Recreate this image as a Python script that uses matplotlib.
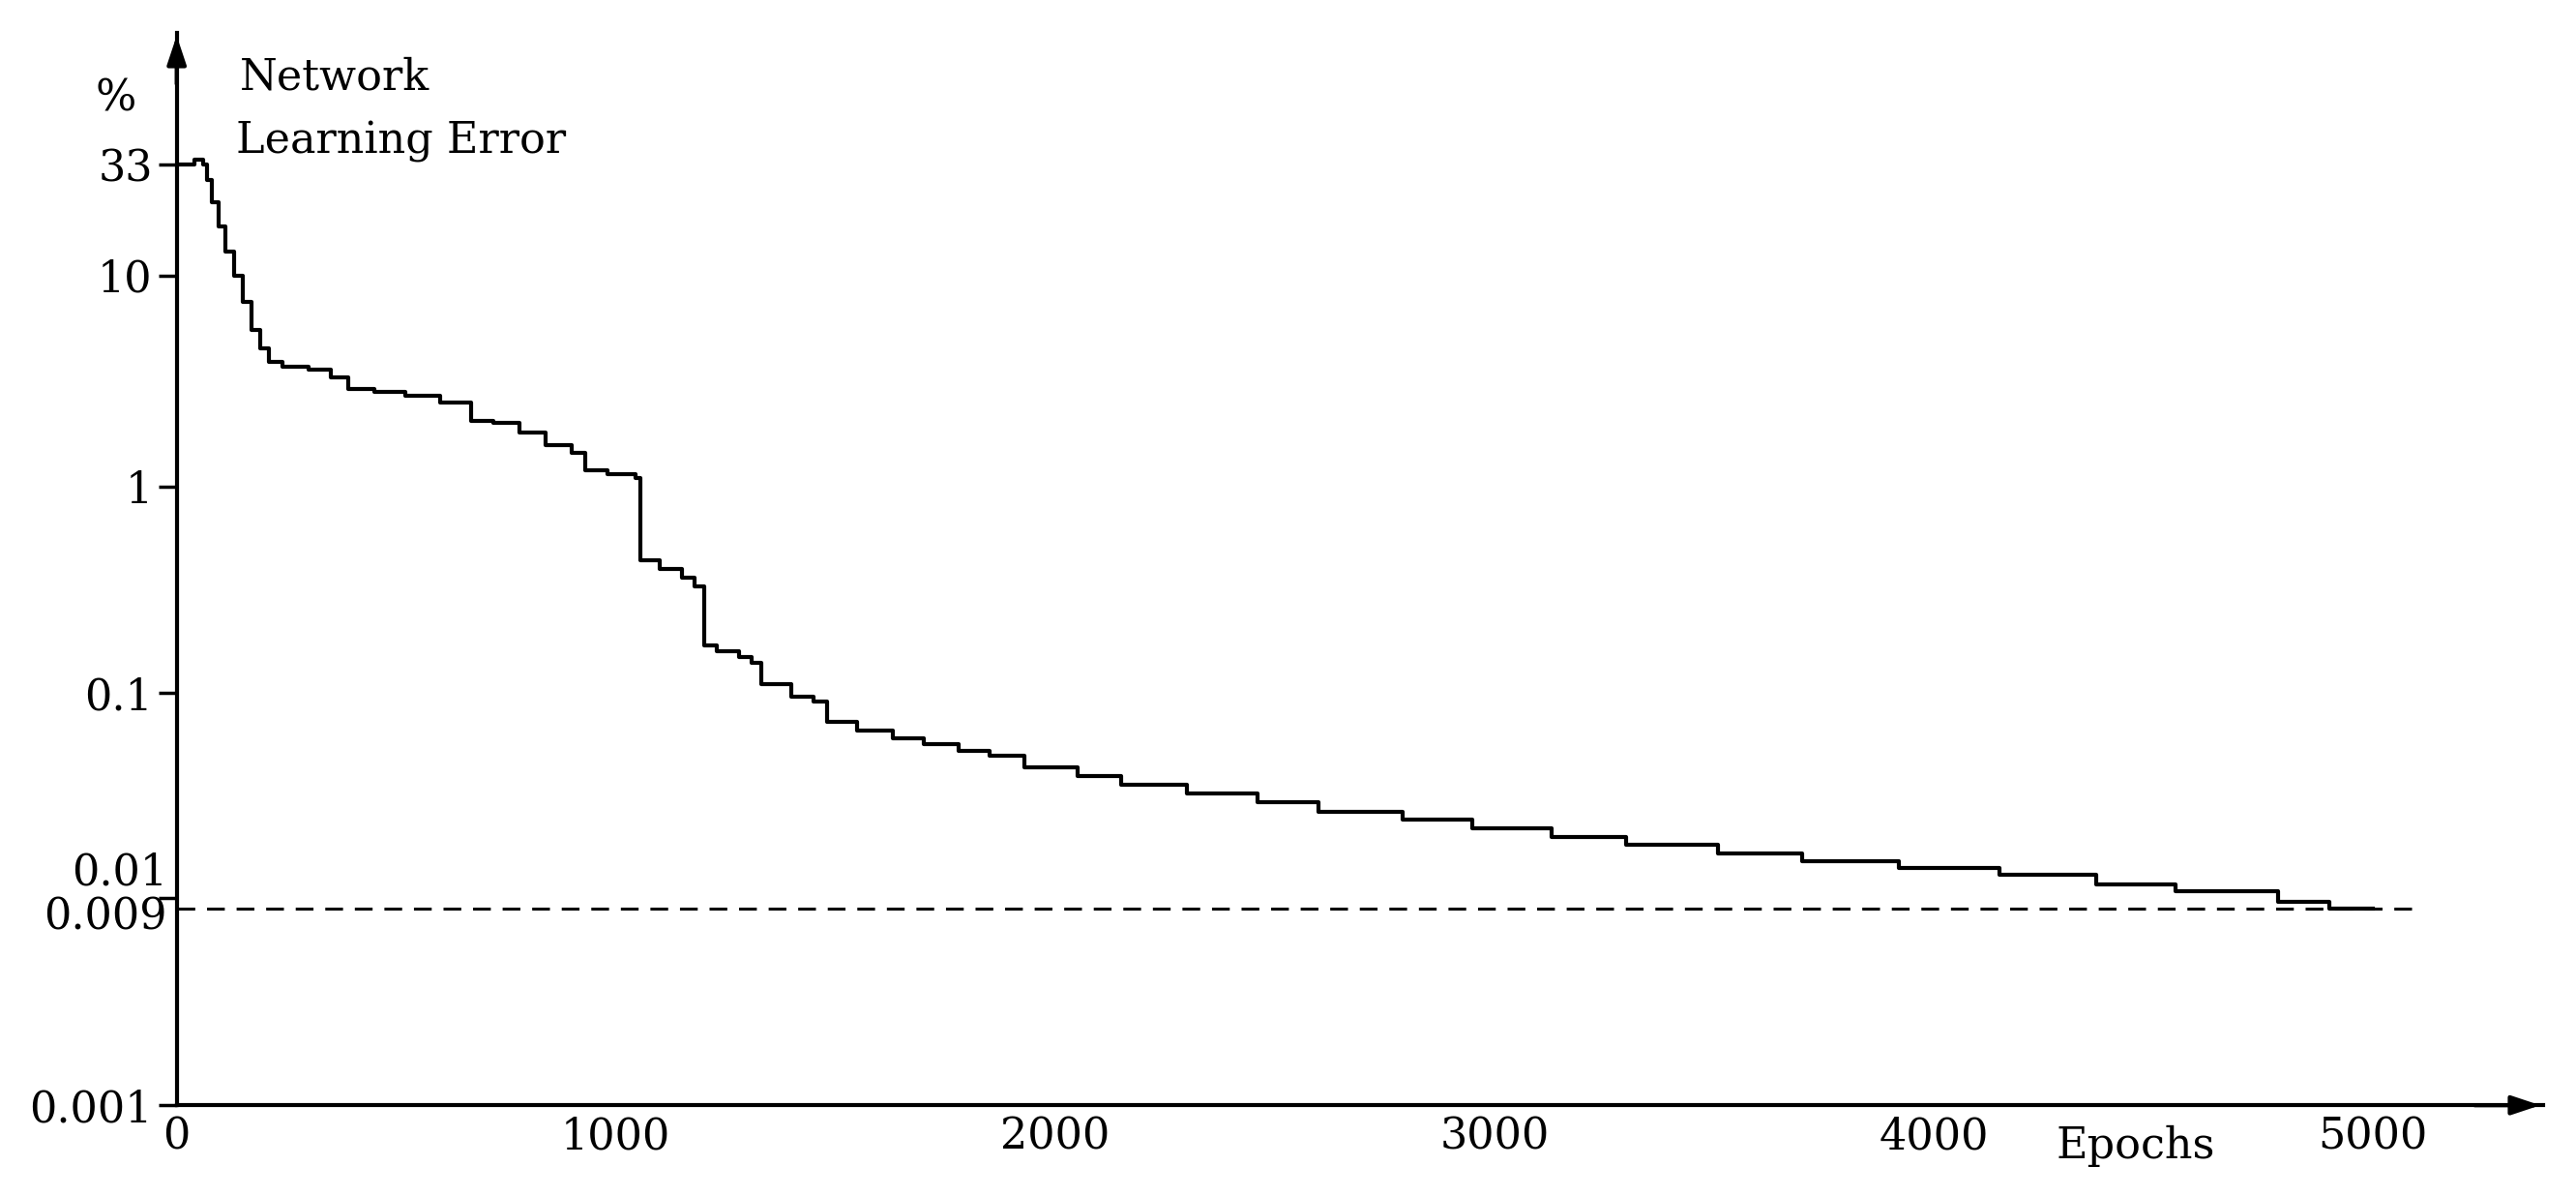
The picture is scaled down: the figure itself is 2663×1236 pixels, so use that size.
import numpy as np
import matplotlib
matplotlib.use("Agg")
import matplotlib.pyplot as plt

epochs = [0, 40, 60, 70, 80, 95, 110, 130, 150, 170, 190, 210, 240, 300, 350, 390, 450, 520, 600, 670, 720, 780, 840, 900, 930, 980, 1045, 1055, 1100, 1150, 1180, 1200, 1230, 1280, 1310, 1330, 1400, 1450, 1480, 1550, 1630, 1700, 1780, 1850, 1930, 2050, 2150, 2300, 2460, 2600, 2790, 2950, 3130, 3300, 3510, 3700, 3920, 4150, 4370, 4550, 4785, 4900, 5000]
error = [33, 35, 33, 28, 22, 17, 13, 10, 7.5, 5.5, 4.5, 3.9, 3.7, 3.6, 3.3, 2.9, 2.8, 2.7, 2.5, 2.05, 2.0, 1.8, 1.57, 1.45, 1.2, 1.15, 1.1, 0.44, 0.40, 0.36, 0.33, 0.17, 0.16, 0.15, 0.14, 0.11, 0.095, 0.09, 0.069, 0.062, 0.056, 0.052, 0.048, 0.045, 0.039, 0.035, 0.031, 0.028, 0.025, 0.022, 0.020, 0.018, 0.016, 0.0145, 0.013, 0.0118, 0.0108, 0.0100, 0.0097, 0.0095, 0.0092, 0.0090, 0.0090]
threshold = 0.009
ytick_vals = [33, 10, 1, 0.1, 0.0093, 0.001]
ytick_labels = ["33", "10", "1", "0.1", "", "0.001"]
xtick_vals = [0, 1000, 2000, 3000, 4000, 5000]

# custom piecewise-log scale anchors
anc_log = np.array([-3, np.log10(0.009), -2, -1, 0, 1, np.log10(33), 2.14])
anc_pix = np.array([670, 551, 530, 420, 295, 167, 100, 20], dtype=float)
def fwd(v):
    v = np.clip(np.asarray(v, float), 1e-9, None)
    return np.interp(np.log10(v), anc_log, -anc_pix)
def inv(p):
    return 10 ** np.interp(p, -anc_pix[::-1], anc_log[::-1])

plt.rcParams['font.family'] = ['DejaVu Serif']
fig = plt.figure(figsize=(26.63, 12.36), dpi=100)
ax = fig.add_axes([107/1560, 1-670/725, (1540-107)/1560, (670-20)/725])
ax.set_yscale('function', functions=(fwd, inv))
ax.set_xlim(0, (1540-107)/0.266)
ax.set_ylim(0.001, 10**2.14)

ax.plot(epochs, error, drawstyle='steps-post', color='black', lw=3)
ax.axhline(threshold, xmin=0, xmax=(1465-107)/(1540-107), color='black', lw=2.2, ls=(0, (6, 4)))

for s in ['top', 'right']:
    ax.spines[s].set_visible(False)
for s in ['left', 'bottom']:
    ax.spines[s].set_linewidth(3)
ax.set_yticks(ytick_vals)
ax.set_yticklabels(ytick_labels)
ax.yaxis.set_minor_locator(matplotlib.ticker.NullLocator())
ax.tick_params(axis='y', length=14, width=2.5, labelsize=32, pad=4)
ax.set_xticks(xtick_vals)
ax.tick_params(axis='x', length=0, labelsize=32, pad=8)
ax.text(-0.004, 0.0102, "0.01", transform=ax.get_yaxis_transform(), ha='right', va='center', fontsize=32)
ax.text(-0.004, 0.0082, "0.009", transform=ax.get_yaxis_transform(), ha='right', va='center', fontsize=32)

# arrows
ax.annotate('', xy=(1.0, 0), xytext=(0.97, 0), xycoords='axes fraction',
            arrowprops=dict(arrowstyle='-|>,head_length=1.8,head_width=0.6', color='black', lw=3), annotation_clip=False)
ax.annotate('', xy=(0, 1.0), xytext=(0, 0.95), xycoords='axes fraction',
            arrowprops=dict(arrowstyle='-|>,head_length=1.8,head_width=0.6', color='black', lw=3), annotation_clip=False)

fig.text(70/1560, 1-60/725, "%", ha='center', va='center', fontsize=32)
fig.text(145/1560, 1-47/725, "Network", ha='left', va='center', fontsize=32)
fig.text(143/1560, 1-86/725, "Learning Error", ha='left', va='center', fontsize=32)
fig.text(1245/1560, 1-695/725, "Epochs", ha='left', va='center', fontsize=32)

fig.savefig("out.png", dpi=100)
